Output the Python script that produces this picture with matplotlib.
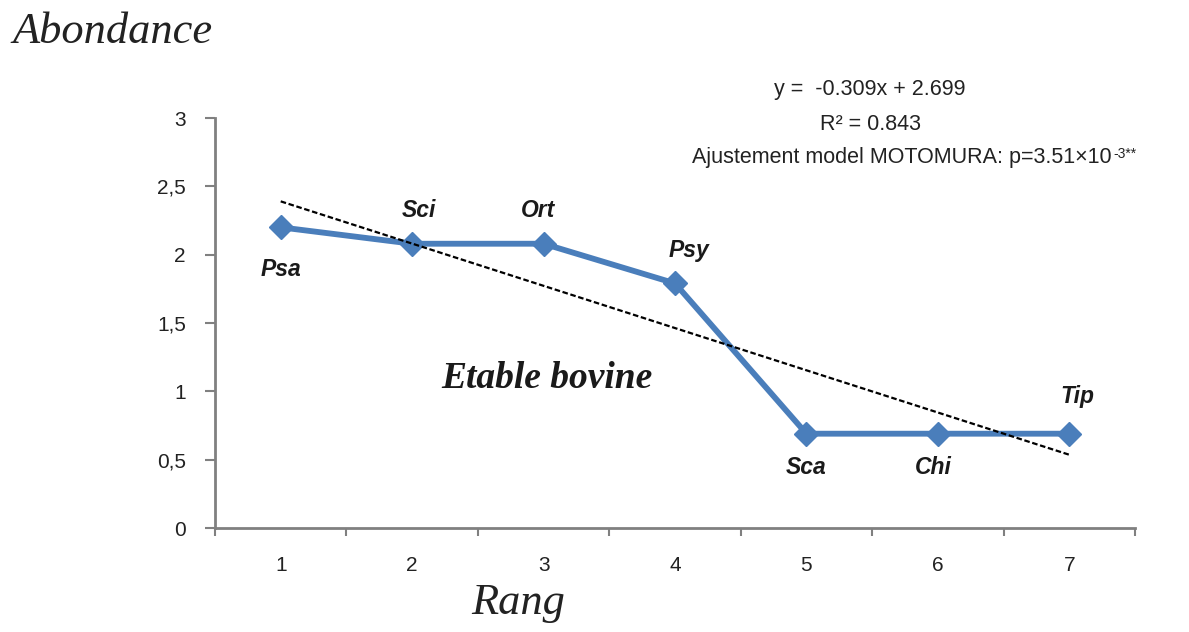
import matplotlib
matplotlib.use("Agg")
import matplotlib.pyplot as plt
import numpy as np
from matplotlib.ticker import FixedLocator, NullFormatter

ranks = [1, 2, 3, 4, 5, 6, 7]
species = ["Psa", "Sci", "Ort", "Psy", "Sca", "Chi", "Tip"]
abundance = [2.20, 2.08, 2.08, 1.79, 0.69, 0.69, 0.69]
trend_slope = -0.309
trend_intercept = 2.699
yticks = [0, 0.5, 1, 1.5, 2, 2.5, 3]
yticklabels = ["0", "0,5", "1", "1,5", "2", "2,5", "3"]

fig = plt.figure(figsize=(11.89, 6.32), dpi=100)
ax = fig.add_axes([215/1189, 1-528/632, (1135-215)/1189, (528-118)/632])

blue = "#4a7ebb"
ax.plot(ranks, abundance, color=blue, lw=4.2, marker="D", markersize=12,
        markerfacecolor=blue, markeredgecolor=blue, zorder=3)

xt = np.array([ranks[0], ranks[-1]])
ax.plot(xt, trend_slope * xt + trend_intercept, color="black", lw=1.6,
        linestyle=(0, (2.5, 1.2)), zorder=4)

offsets = {"Psa": (0, -30), "Sci": (5, 24), "Ort": (-4, 24), "Psy": (10, 24),
           "Sca": (0, -24), "Chi": (-3, -24), "Tip": (6, 27)}
for x, y, s in zip(ranks, abundance, species):
    ax.annotate(s, (x, y), xytext=offsets[s], textcoords="offset points",
                ha="center", va="center", fontsize=16.5, fontweight="bold",
                fontstyle="italic", family="Liberation Sans", color="#1a1a1a")

ax.set_xlim(0.5, 7.5)
ax.set_ylim(0, 3)
ax.set_yticks(yticks)
ax.set_yticklabels(yticklabels, family="Liberation Sans", fontsize=15, color="#222222")
ax.set_xticks(ranks)
ax.set_xticklabels([str(r) for r in ranks], family="Liberation Sans", fontsize=15, color="#222222")
ax.tick_params(axis="x", which="major", length=0, pad=20)
ax.xaxis.set_minor_locator(FixedLocator(np.arange(0.5, 8.0, 1.0)))
ax.xaxis.set_minor_formatter(NullFormatter())
ax.tick_params(axis="x", which="minor", length=6, width=1.5, color="#808080", direction="out")
ax.tick_params(axis="y", which="major", length=7, width=1.5, color="#808080", direction="out", pad=14)

for sp in ["top", "right"]:
    ax.spines[sp].set_visible(False)
for sp in ["left", "bottom"]:
    ax.spines[sp].set_color("#808080")
    ax.spines[sp].set_linewidth(2)

fig.text(12/1189, 1-32/632, "Abondance", family="Liberation Serif", style="italic",
         fontsize=32, ha="left", va="center", color="#222222")
fig.text(518/1189, 1-603/632, "Rang", family="Liberation Serif", style="italic",
         fontsize=32, ha="center", va="center", color="#222222")
fig.text(547/1189, 1-378/632, "Etable bovine", family="Liberation Serif", style="italic",
         fontweight="bold", fontsize=27, ha="center", va="center", color="#1a1a1a")

fig.text(870/1189, 1-90/632, "y =  -0.309x + 2.699", family="Liberation Sans",
         fontsize=15.5, ha="center", va="center", color="#222222")
fig.text(870/1189, 1-125/632, "R² = 0.843", family="Liberation Sans",
         fontsize=15.5, ha="center", va="center", color="#222222")
t3 = fig.text(692/1189, 1-158/632, "Ajustement model MOTOMURA: p=3.51×10",
              family="Liberation Sans", fontsize=15.5, ha="left", va="center", color="#222222")
ax.annotate("-3**", xy=(1.0, 1.0), xycoords=t3, xytext=(1, 0), textcoords="offset points",
            ha="left", va="top", fontsize=10, family="Liberation Sans", color="#222222",
            annotation_clip=False)

fig.savefig("out.png", dpi=100, facecolor="white")
